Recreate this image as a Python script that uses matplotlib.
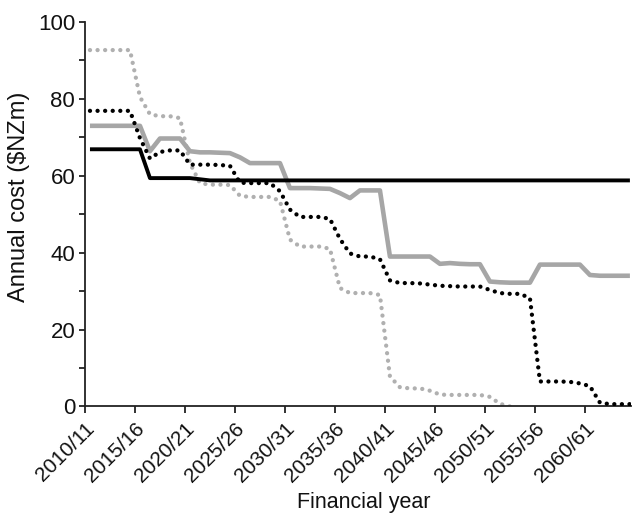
import numpy as np
import matplotlib
matplotlib.use("Agg")
import matplotlib.pyplot as plt
from matplotlib.transforms import ScaledTranslation

plt.rcParams['font.family'] = ['Liberation Sans', 'DejaVu Sans']

years = [f"{y}/{(y + 1) % 100:02d}" for y in range(2010, 2065)]
tick_labels = ["2010/11", "2015/16", "2020/21", "2025/26", "2030/31", "2035/36",
               "2040/41", "2045/46", "2050/51", "2055/56", "2060/61"]

solid_black = [66.9, 66.9, 66.9, 66.9, 66.9, 66.9, 59.4, 59.4, 59.4, 59.4,
               59.4, 59.1, 58.8, 58.8, 58.8, 58.8, 58.8, 58.8, 58.8, 58.8,
               58.8, 58.8, 58.8, 58.8, 58.8, 58.8, 58.8, 58.8, 58.8, 58.8,
               58.8, 58.8, 58.8, 58.8, 58.8, 58.8, 58.8, 58.8, 58.8, 58.8,
               58.8, 58.8, 58.8, 58.8, 58.8, 58.8, 58.8, 58.8, 58.8, 58.8,
               58.8, 58.8, 58.8, 58.8, 58.8]

solid_grey = [73.0, 73.0, 73.0, 73.0, 73.0, 73.0, 66.4, 69.7, 69.7, 69.7,
              66.4, 66.1, 66.1, 66.0, 65.9, 64.8, 63.3, 63.3, 63.3, 63.3,
              56.8, 56.8, 56.8, 56.7, 56.6, 55.5, 54.2, 56.2, 56.2, 56.2,
              39.0, 39.0, 39.0, 39.0, 39.0, 37.1, 37.3, 37.1, 37.0, 37.0,
              32.5, 32.3, 32.2, 32.2, 32.2, 36.9, 36.9, 36.9, 36.9, 36.9,
              34.2, 34.0, 34.0, 34.0, 34.0]

dotted_black = [76.9, 76.9, 76.9, 76.9, 76.9, 69.8, 64.5, 66.2, 66.6, 66.6,
                62.9, 62.9, 62.9, 62.8, 62.6, 58.2, 58.1, 58.1, 58.1, 56.0,
                51.2, 49.3, 49.3, 49.3, 48.8, 43.6, 39.8, 39.0, 39.0, 38.3,
                32.8, 32.1, 32.1, 32.0, 31.7, 31.4, 31.3, 31.2, 31.2, 31.2,
                30.3, 29.5, 29.3, 29.3, 28.2, 6.5, 6.5, 6.5, 6.4, 6.0,
                5.3, 1.0, 0.6, 0.6, 0.6]

dotted_grey = [92.7, 92.7, 92.7, 92.7, 92.7, 80.5, 76.0, 75.5, 75.5, 75.0,
               63.3, 58.1, 57.7, 57.7, 57.6, 54.8, 54.5, 54.5, 54.5, 53.5,
               43.4, 41.6, 41.6, 41.6, 41.0, 30.8, 29.5, 29.5, 29.5, 29.0,
               7.8, 5.0, 4.7, 4.7, 4.1, 3.1, 3.0, 3.0, 3.0, 3.0,
               2.5, 0.7, 0.0] + [np.nan] * 12

fig = plt.figure(figsize=(6.36, 5.18), dpi=100)
ax = fig.add_axes([0.1336, 0.2153, 0.8584, 0.7422])

x = np.arange(len(years)) + 0.5

ax.plot(x, solid_black, color='black', lw=2.8, solid_capstyle='butt', zorder=3)
ax.plot(x, solid_grey, color='#a6a6a6', lw=3.3, solid_capstyle='butt', zorder=2)
ax.plot(x, dotted_black, color='black', lw=3.1, linestyle=(0, (0.01, 1.75)),
        dash_capstyle='round', zorder=4)
ax.plot(x, dotted_grey, color='#b0b0b0', lw=3.1, linestyle=(0, (0.01, 1.75)),
        dash_capstyle='round', zorder=1)

ax.set_xlim(0, 54.6)
ax.set_ylim(0, 100)

tick_pos = [years.index(t) for t in tick_labels]
ax.set_xticks(tick_pos)
ax.set_xticklabels(tick_labels, rotation=45, ha='right', va='top',
                   rotation_mode='anchor', fontsize=15, color='#111111')
offset = ScaledTranslation(5 / 100, -4 / 100, fig.dpi_scale_trans)
for lab in ax.get_xticklabels():
    lab.set_transform(lab.get_transform() + offset)

ax.set_yticks(np.arange(0, 101, 10))
ax.set_yticklabels([str(v) if v % 20 == 0 else '' for v in range(0, 101, 10)],
                   fontsize=16, color='#111111')

for s in ['top', 'right']:
    ax.spines[s].set_visible(False)
for s in ['left', 'bottom']:
    ax.spines[s].set_linewidth(1.3)
    ax.spines[s].set_color('#222222')

ax.tick_params(axis='x', direction='out', length=5, width=1.3, color='#222222', pad=4)
ax.tick_params(axis='y', direction='out', length=4, width=1.3, color='#222222', pad=3)

ax.set_xlabel('Financial year', fontsize=15.5, color='#111111')
ax.set_ylabel('Annual cost ($NZm)', fontsize=17, color='#111111')
ax.xaxis.set_label_coords(0.51, -0.222)
ax.yaxis.set_label_coords(-0.10, 0.545)

fig.savefig('out.png', dpi=100)
